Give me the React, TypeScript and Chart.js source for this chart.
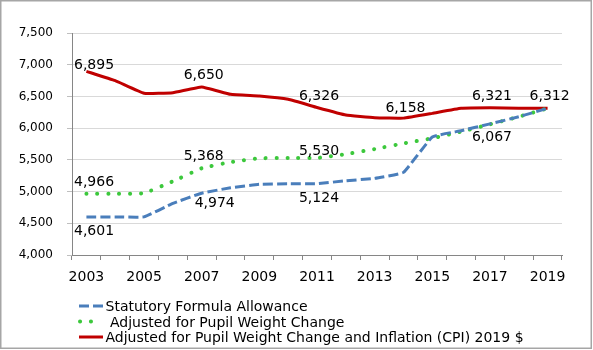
import { useEffect, useRef } from "react";
import { Chart, registerables } from "chart.js";

Chart.register(...registerables);

const years = ["2003", "2004", "2005", "2006", "2007", "2008", "2009", "2010", "2011", "2012", "2013", "2014", "2015", "2016", "2017", "2018", "2019"];
const statutory = [4601, 4601, 4601, 4814, 4974, 5060, 5114, 5124, 5124, 5170, 5208, 5303, 5860, 5960, 6067, 6180, 6312];
const adjusted = [4966, 4966, 4975, 5161, 5368, 5465, 5525, 5530, 5530, 5590, 5670, 5760, 5840, 5945, 6060, 6180, 6312];
const adjustedCpi = [6895, 6748, 6549, 6559, 6650, 6533, 6506, 6454, 6326, 6207, 6165, 6158, 6233, 6313, 6321, 6315, 6312];
const seriesNames = [
  "Statutory Formula Allowance",
  " Adjusted for Pupil Weight Change",
  "Adjusted for Pupil Weight Change and Inflation (CPI) 2019 $",
];
const yMin = 4000;
const yMax = 7500;
const yStep = 500;

// which points carry a value label (dataset index, point index, side)
const labelSpecs = [
  { ds: 2, i: 0, side: "above", dy: 7 },
  { ds: 2, i: 4, side: "above" },
  { ds: 2, i: 8, side: "above" },
  { ds: 2, i: 11, side: "above", dy: 11 },
  { ds: 2, i: 14, side: "above" },
  { ds: 2, i: 16, side: "above" },
  { ds: 1, i: 0, side: "above" },
  { ds: 1, i: 4, side: "above" },
  { ds: 1, i: 8, side: "above", dy: 8 },
  { ds: 0, i: 0, side: "below" },
  { ds: 0, i: 4, side: "below", dx: 11, dy: 9 },
  { ds: 0, i: 8, side: "below" },
  { ds: 0, i: 14, side: "below", dy: 12 },
];

const FONT = "'DejaVu Sans', sans-serif";

const fmt = (v: number) => v.toLocaleString("en-US");

const backgroundPlugin = {
  id: "bgBorder",
  beforeDraw(chart: any) {
    const ctx = chart.ctx;
    ctx.save();
    ctx.fillStyle = "#ffffff";
    ctx.fillRect(0, 0, chart.width, chart.height);
    ctx.strokeStyle = "#a6a6a6";
    ctx.lineWidth = 1.5;
    ctx.strokeRect(0.75, 0.75, 590.5, 347.5);
    ctx.restore();
  },
};

const valueLabelPlugin = {
  id: "valueLabels",
  afterDatasetsDraw(chart: any) {
    const ctx = chart.ctx;
    const area = chart.chartArea;
    ctx.save();
    ctx.font = `14px ${FONT}`;
    ctx.fillStyle = "#000000";
    ctx.textAlign = "center";
    ctx.textBaseline = "alphabetic";
    for (const s of labelSpecs) {
      const meta = chart.getDatasetMeta(s.ds);
      const pt = meta.data[s.i];
      if (!pt) continue;
      const value = chart.data.datasets[s.ds].data[s.i] as number;
      const text = fmt(value);
      const w = ctx.measureText(text).width;
      let cx = pt.x + 2 + ((s as any).dx || 0);
      cx = Math.max(cx, area.left + 2 + w / 2);
      const off = (s as any).dy || 13;
      const cy = s.side === "above" ? pt.y - off : pt.y + off;
      ctx.fillText(text, cx, cy + 14 * 0.365);
    }
    ctx.restore();
  },
};

const legendPlugin = {
  id: "customLegend",
  afterDraw(chart: any) {
    const ctx = chart.ctx;
    const rows = [306, 321.5, 337];
    const x0 = 79;
    const x1 = 103;
    const tx = 105.5;
    ctx.save();
    chart.data.datasets.forEach((ds: any, k: number) => {
      const y = rows[k];
      ctx.save();
      ctx.strokeStyle = ds.borderColor;
      ctx.lineWidth = ds.borderWidth;
      ctx.lineCap = ds.borderCapStyle || "butt";
      ctx.setLineDash(ds.borderDash || []);
      ctx.beginPath();
      ctx.moveTo(x0 + (ds.borderCapStyle === "round" ? 1 : 0), y);
      ctx.lineTo(ds.borderCapStyle === "round" ? 92.5 : x1, y);
      ctx.stroke();
      ctx.restore();
      ctx.font = `14px ${FONT}`;
      ctx.fillStyle = "#000000";
      ctx.textAlign = "left";
      ctx.textBaseline = "alphabetic";
      ctx.fillText(ds.label, tx, y + 14 * 0.365);
    });
    ctx.restore();
  },
};

export default function App() {
  const ref = useRef<HTMLCanvasElement | null>(null);

  useEffect(() => {
    if (!ref.current) return;
    const chart = new Chart(ref.current, {
      type: "line",
      data: {
        labels: years,
        datasets: [
          {
            label: seriesNames[0],
            data: statutory,
            borderColor: "#4a7ebb",
            borderWidth: 3,
            borderDash: [10, 4],
            borderCapStyle: "butt",
            pointRadius: 0,
            tension: 0.1,
            fill: false,
          },
          {
            label: seriesNames[1],
            data: adjusted,
            borderColor: "#3cc83c",
            borderWidth: 4,
            borderDash: [0.1, 10.8],
            borderCapStyle: "round",
            pointRadius: 0,
            tension: 0.1,
            fill: false,
          },
          {
            label: seriesNames[2],
            data: adjustedCpi,
            borderColor: "#c00000",
            borderWidth: 3,
            pointRadius: 0,
            tension: 0.1,
            fill: false,
          },
        ],
      },
      options: {
        responsive: false,
        animation: false,
        layout: { padding: { top: 33, right: 31, bottom: 65, left: 0 } },
        plugins: {
          legend: { display: false },
          tooltip: { enabled: false },
        },
        scales: {
          x: {
            type: "category",
            offset: true,
            afterFit: (scale: any) => {
              scale.height = 30;
            },
            grid: {
              display: true,
              offset: true,
              drawOnChartArea: false,
              drawTicks: true,
              tickLength: 5,
              color: "#868686",
              tickColor: "#868686",
            },
            border: { display: true, color: "#868686", width: 1 },
            ticks: {
              autoSkip: false,
              maxRotation: 0,
              minRotation: 0,
              padding: 9,
              color: "#000000",
              font: { family: FONT, size: 14 },
              callback: (_v: any, idx: number) => (idx % 2 === 0 ? years[idx] : ""),
            },
          },
          y: {
            min: yMin,
            max: yMax,
            afterFit: (scale: any) => {
              scale.width = 72;
            },
            grid: {
              color: "#d9d9d9",
              lineWidth: 1,
              tickLength: 5,
              tickColor: "#bfbfbf",
            },
            border: { display: true, color: "#868686", width: 1 },
            ticks: {
              stepSize: yStep,
              padding: 14,
              color: "#000000",
              font: { family: FONT, size: 12 },
              callback: (v: any) => fmt(Number(v)),
            },
          },
        },
      },
      plugins: [backgroundPlugin, valueLabelPlugin, legendPlugin],
    } as any);
    return () => chart.destroy();
  }, []);

  return (
    <div style={{ position: "absolute", left: 0, top: 0, width: 593, height: 350 }}>
      <canvas ref={ref} width={593} height={350} style={{ width: 593, height: 350, display: "block" }} />
    </div>
  );
}
